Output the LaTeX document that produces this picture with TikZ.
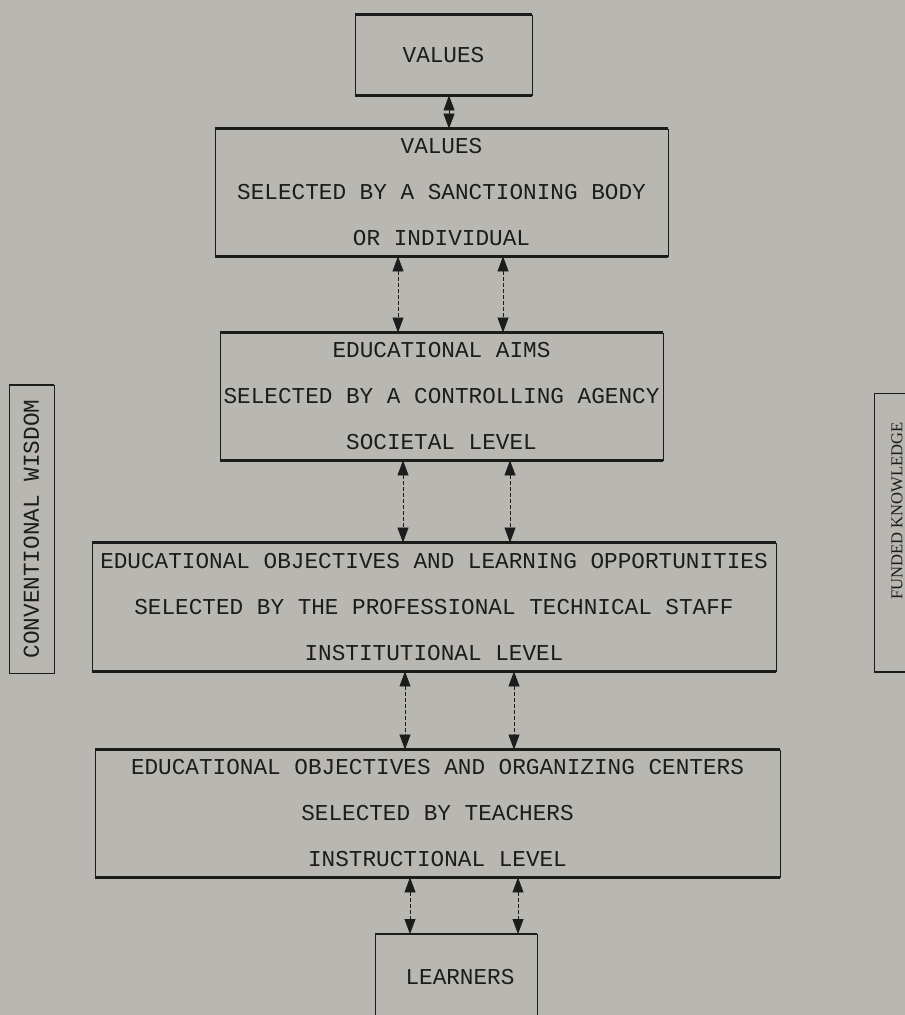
\documentclass[tikz,border=0pt]{standalone}
\usepackage{fontspec}
\setmainfont{Liberation Serif}
\setmonofont{Liberation Mono}
\usetikzlibrary{arrows.meta}

\definecolor{paper}{RGB}{185,183,177}
\definecolor{ink}{RGB}{28,28,28}

\tikzset{
  stage/.style={draw=ink, line width=0.9pt, inner sep=0pt, align=center,
    text=ink, font=\ttfamily\fontsize{22.7}{46}\selectfont},
  rim/.style={draw=ink, line width=2.2pt},
  link/.style={draw=ink, line width=0.8pt, dash pattern=on 4pt off 2pt,
    {Triangle[length=15pt,width=11pt]}-{Triangle[length=15pt,width=11pt]}},
  sidetag/.style={rotate=90, text=ink, inner sep=0pt},
}

\begin{document}
\begin{tikzpicture}[x=1pt,y=-1pt]
\useasboundingbox (0,0) rectangle (905,1015);
\fill[paper] (0,0) rectangle (905,1015);

% 各层方框
\node[stage, minimum width=177, minimum height=80] (top) at (443.5,55) {VALUES};
\node[stage, minimum width=453, minimum height=127] (b2) at (441.5,192.5)
  {VALUES\\SELECTED BY A SANCTIONING BODY\\OR INDIVIDUAL};
\node[stage, minimum width=443, minimum height=127] (b3) at (441.5,396.5)
  {EDUCATIONAL AIMS\\SELECTED BY A CONTROLLING AGENCY\\SOCIETAL LEVEL};
\node[stage, minimum width=684, minimum height=128] (b4) at (434,607)
  {EDUCATIONAL OBJECTIVES AND LEARNING OPPORTUNITIES\\SELECTED BY THE PROFESSIONAL TECHNICAL STAFF\\INSTITUTIONAL LEVEL};
\node[stage, minimum width=685, minimum height=127] (b5) at (437.5,813.5)
  {EDUCATIONAL OBJECTIVES AND ORGANIZING CENTERS\\SELECTED BY TEACHERS\\INSTRUCTIONAL LEVEL};
\foreach \b in {top,b2,b3,b4,b5}
  \draw[rim] (\b.north west) -- (\b.north east) (\b.south west) -- (\b.south east);

% 最下面的方框（下边不画）
\node[text=ink, font=\ttfamily\fontsize{22.7}{27}\selectfont] (lrn) at (460,977) {LEARNERS};
\coordinate (lrnw) at (375,934);
\coordinate (lrne) at (537,934);
\draw[rim] (lrnw) -- (lrne);
\draw[ink, line width=0.9pt] (375,1015) -- (lrnw) (lrne) -- (537,1015);

% 双向箭头
\coordinate (a0) at (449,0);
\coordinate (a1) at (398,0);  \coordinate (a2) at (503,0);
\coordinate (a3) at (403,0);  \coordinate (a4) at (510,0);
\coordinate (a5) at (405,0);  \coordinate (a6) at (514,0);
\coordinate (a7) at (410,0);  \coordinate (a8) at (518,0);
\draw[link, dash pattern=] (top.south -| a0) -- (b2.north -| a0);
\draw[link] (b2.south -| a1) -- (b3.north -| a1);
\draw[link] (b2.south -| a2) -- (b3.north -| a2);
\draw[link] (b3.south -| a3) -- (b4.north -| a3);
\draw[link] (b3.south -| a4) -- (b4.north -| a4);
\draw[link] (b4.south -| a5) -- (b5.north -| a5);
\draw[link] (b4.south -| a6) -- (b5.north -| a6);
\draw[link] (b5.south -| a7) -- (lrnw -| a7);
\draw[link] (b5.south -| a8) -- (lrne -| a8);

% 两侧标签
\node[stage, rotate=90, minimum width=288, minimum height=45] (wisdom) at (31.5,529)
  {CONVENTIONAL WISDOM};
\draw[rim, line width=1.8pt] (wisdom.north east) -- (wisdom.south east);
\node[sidetag, font=\fontsize{16.6}{20}\selectfont] (funded) at (897,511) {FUNDED KNOWLEDGE};
\draw[ink, line width=0.9pt] (905,393) -- (874,393) -- (874,672);
\draw[rim, line width=1.8pt] (874,672) -- (905,672);
\end{tikzpicture}
\end{document}
